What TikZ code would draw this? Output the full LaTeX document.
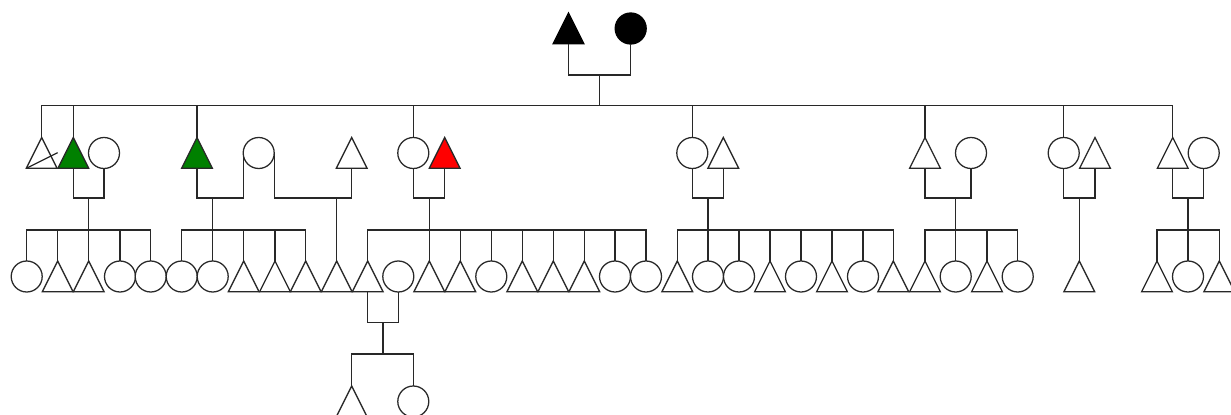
\documentclass[tikz,border=0pt]{standalone}
\usetikzlibrary{shapes.geometric}
\definecolor{pgreen}{RGB}{0,128,0}
\definecolor{pline}{RGB}{40,40,40}
\tikzset{
  ln/.style={draw=pline, line width=0.95pt},
  male/.style={isosceles triangle, isosceles triangle stretches, shape border rotate=90,
    minimum width=23pt, minimum height=23pt, inner sep=0pt, outer sep=0pt,
    draw=pline, line width=0.95pt, fill=white, anchor=apex},
  female/.style={circle, minimum size=23.25pt, inner sep=0pt, outer sep=0pt,
    draw=pline, line width=0.95pt, fill=white, anchor=north},
  blk/.style={fill=black, draw=black},
  grn/.style={fill=pgreen},
  rd/.style={fill=red}
}
\begin{document}
\begin{tikzpicture}[x=0.75pt, y=-0.75pt]
\useasboundingbox (0,0) rectangle (1231,414);
\fill[white] (0,0) rectangle (1231,414);
\clip (0,0) rectangle (1231,414);

% Generation I
\node[male, blk] (gA) at (568.5,13) {};
\node[female, blk] (gB) at (630.7,13) {};

% Generation II
\node[male] (a1) at (41.7,137.5) {};
\node[male, grn] (a2) at (73.3,137.5) {};
\node[female] (a3) at (104,137.5) {};
\node[male, grn] (b1) at (197,137.5) {};
\node[female] (b2) at (258.7,137.5) {};
\node[male] (b3) at (351.7,137.5) {};
\node[female] (c1) at (413.3,137.5) {};
\node[male, rd] (c2) at (444.7,137.5) {};
\node[female] (d1) at (692.3,137.5) {};
\node[male] (d2) at (723.3,137.5) {};
\node[male] (e1) at (925,137.5) {};
\node[female] (e2) at (971,137.5) {};
\node[female] (f1) at (1063.7,137.5) {};
\node[male] (f2) at (1095,137.5) {};
\node[male] (g1) at (1172.7,137.5) {};
\node[female] (g2) at (1203.7,137.5) {};
\draw[ln] ([shift={(-15,0)}]a1.lower side) -- ([shift={(16,-15.5)}]a1.lower side);

% Generation III
\foreach \x/\s [count=\i] in {26.7/female, 57.7/male, 88.7/male, 120/female, 150.7/female,
  181.7/female, 212.7/female, 243.7/male, 275/male, 305.7/male, 336.7/male,
  367.7/male, 398.3/female, 429.3/male, 460.3/male, 491.3/female, 522.3/male, 553.3/male,
  584.3/male, 615/female, 646/female, 677.3/male, 708/female, 739/female, 770/male,
  801/female, 832/male, 863/female, 893.3/male, 925/male, 955.7/female, 987/male,
  1017.7/female, 1079.3/male, 1157/male, 1188/female, 1219.3/male}
  {\node[\s] (n\i) at (\x,261) {};}

% Generation IV
\node[male] (p1) at (351.7,386) {};
\node[female] (p2) at (413.3,386) {};

% Parents of generation II
\coordinate (m0) at (599.6,75);
\coordinate (s0) at (599.6,105.7);
\draw[ln] (gA.lower side) |- (m0) -| (gB.south);
\draw[ln] (m0) -- (s0);
\draw[ln] (a1.apex) |- (s0) -| (g1.apex);
\foreach \n in {a2.apex, b1.apex, c1.north, d1.north, e1.apex, f1.north}
  {\draw[ln] (\n) -- (\n |- s0);}

% Family A
\coordinate (mA) at (88.7,198); \coordinate (sA) at (88.7,230);
\draw[ln] (a2.lower side) |- (mA) -| (a3.south);
\draw[ln] (mA) -- (n3.apex);
\draw[ln] (n1.north) |- (sA) -| (n5.north);
\foreach \n in {n2.apex, n4.north} {\draw[ln] (\n) -- (\n |- sA);}

% Family B
\coordinate (mB) at (212.7,198); \coordinate (sB) at (212.7,230);
\draw[ln] (b1.lower side) |- (mB) -| (b2.west);
\draw[ln] (mB) -- (n7.north);
\draw[ln] (n6.north) |- (sB) -| (n10.apex);
\foreach \n in {n8.apex, n9.apex} {\draw[ln] (\n) -- (\n |- sB);}

% Family B'
\coordinate (mB2) at (336.7,198);
\draw[ln] (b2.east) |- (mB2) -| (b3.lower side);
\draw[ln] (mB2) -- (n11.apex);

% Family C
\coordinate (mC) at (429.3,198); \coordinate (sC) at (429.3,230);
\draw[ln] (c1.south) |- (mC) -| (c2.lower side);
\draw[ln] (mC) -- (n14.apex);
\draw[ln] (n12.apex) |- (sC) -| (n21.north);
\foreach \n in {n15.apex, n16.north, n17.apex, n18.apex, n19.apex, n20.north}
  {\draw[ln] (\n) -- (\n |- sC);}

% Family D
\coordinate (mD) at (708,198); \coordinate (sD) at (708,230);
\draw[ln] (d1.south) |- (mD) -| (d2.lower side);
\draw[ln] (mD) -- (n23.north);
\draw[ln] (n22.apex) |- (sD) -| (n29.apex);
\foreach \n in {n24.north, n25.apex, n26.north, n27.apex, n28.north}
  {\draw[ln] (\n) -- (\n |- sD);}

% Family E
\coordinate (mE) at (955.7,198); \coordinate (sE) at (955.7,230);
\draw[ln] (e1.lower side) |- (mE) -| (e2.south);
\draw[ln] (mE) -- (n31.north);
\draw[ln] (n30.apex) |- (sE) -| (n33.north);
\draw[ln] (n32.apex) -- (n32.apex |- sE);

% Family F
\coordinate (mF) at (1079.3,198);
\draw[ln] (f1.south) |- (mF) -| (f2.lower side);
\draw[ln] (mF) -- (n34.apex);

% Family G
\coordinate (mG) at (1188,198); \coordinate (sG) at (1188,230);
\draw[ln] (g1.lower side) |- (mG) -| (g2.south);
\draw[ln] (mG) -- (n36.north);
\draw[ln] (n35.apex) |- (sG) -| (n37.apex);

% Family H (generation IV)
\coordinate (mH) at (383,322.7); \coordinate (sH) at (383,354);
\draw[ln] (n12.lower side) |- (mH) -| (n13.south);
\draw[ln] (mH) -- (sH);
\draw[ln] (p1.apex) |- (sH) -| (p2.north);
\end{tikzpicture}
\end{document}
